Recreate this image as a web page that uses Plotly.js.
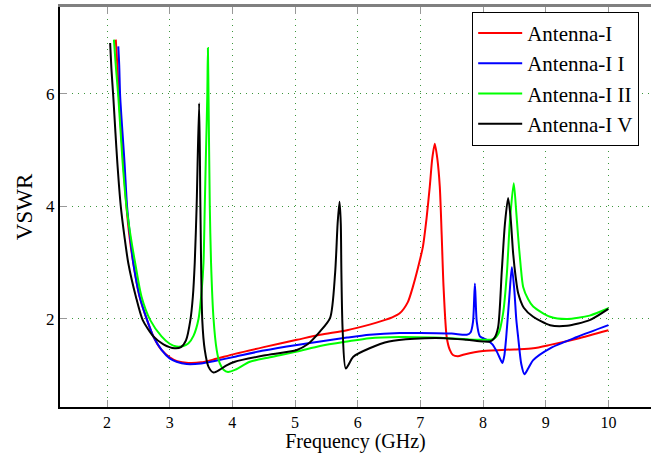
<!DOCTYPE html>
<html>
<head>
<meta charset="utf-8">
<script src="https://cdn.plot.ly/plotly-3.0.1.min.js"></script>
<style>html,body{margin:0;padding:0;background:#fff;}#chart{width:651px;height:453px;}</style>
</head>
<body>
<div id="chart"></div>
<script>
const seriesNames = ["Antenna-I", "Antenna-I I", "Antenna-I II", "Antenna-I V"];
const seriesColors = ["#ff0000", "#0000ff", "#00ff00", "#000000"];

const freqA1 = [2.14, 2.165, 2.19, 2.26, 2.31, 2.36, 2.42, 2.52, 2.64, 2.74, 2.87, 3.0, 3.12, 3.3, 3.5, 3.7, 4.04, 4.5, 5.03, 5.4, 5.83, 6.19, 6.4, 6.55, 6.67, 6.8, 6.88, 6.96, 7.04, 7.1, 7.15, 7.19, 7.23, 7.27, 7.31, 7.34, 7.37, 7.42, 7.47, 7.52, 7.6, 7.7, 8.0, 8.5, 8.8, 9.07, 9.5, 10.0];
const vswrA1 = [6.96, 6.5, 5.95, 4.77, 4.0, 3.45, 2.99, 2.40, 1.98, 1.69, 1.45, 1.32, 1.25, 1.22, 1.23, 1.28, 1.38, 1.5, 1.63, 1.72, 1.8, 1.9, 1.97, 2.03, 2.1, 2.3, 2.57, 2.9, 3.28, 3.8, 4.35, 4.85, 5.11, 4.85, 4.35, 3.5, 2.57, 1.68, 1.45, 1.36, 1.34, 1.37, 1.43, 1.46, 1.48, 1.54, 1.65, 1.8];

const freqA2 = [2.18, 2.195, 2.21, 2.28, 2.32, 2.37, 2.42, 2.52, 2.64, 2.74, 2.87, 3.0, 3.11, 3.27, 3.5, 3.7, 4.04, 4.5, 5.03, 5.4, 5.83, 6.19, 6.67, 7.0, 7.5, 7.74, 7.8, 7.84, 7.87, 7.9, 7.95, 8.06, 8.15, 8.22, 8.27, 8.31, 8.34, 8.37, 8.42, 8.46, 8.5, 8.53, 8.56, 8.61, 8.66, 8.72, 8.8, 9.07, 9.5, 10.0];
const vswrA2 = [6.84, 6.5, 5.95, 4.77, 4.0, 3.45, 2.99, 2.40, 1.98, 1.69, 1.45, 1.3, 1.24, 1.2, 1.21, 1.25, 1.33, 1.44, 1.54, 1.6, 1.67, 1.72, 1.75, 1.75, 1.74, 1.72, 1.76, 1.95, 2.63, 1.95, 1.69, 1.63, 1.55, 1.42, 1.3, 1.22, 1.35, 1.68, 2.4, 2.92, 2.5, 2.0, 1.68, 1.2, 1.02, 1.12, 1.27, 1.48, 1.68, 1.89];

const freqA3 = [2.11, 2.14, 2.18, 2.25, 2.31, 2.38, 2.45, 2.55, 2.69, 2.87, 3.0, 3.11, 3.22, 3.3, 3.38, 3.46, 3.51, 3.54, 3.56, 3.58, 3.6, 3.61, 3.62, 3.64, 3.66, 3.70, 3.75, 3.80, 3.86, 3.93, 4.05, 4.28, 4.6, 5.03, 5.4, 5.83, 6.19, 6.67, 7.2, 7.74, 8.0, 8.16, 8.25, 8.32, 8.38, 8.43, 8.49, 8.53, 8.56, 8.6, 8.64, 8.72, 8.8, 9.07, 9.34, 9.7, 10.0];
const vswrA3 = [6.96, 6.5, 5.95, 4.77, 4.0, 3.45, 2.99, 2.40, 1.98, 1.69, 1.56, 1.51, 1.52, 1.57, 1.7, 2.0, 2.5, 3.0, 4.0, 5.0, 5.95, 6.81, 5.95, 4.0, 3.0, 2.0, 1.45, 1.21, 1.1, 1.06, 1.1, 1.24, 1.32, 1.42, 1.52, 1.6, 1.66, 1.68, 1.67, 1.64, 1.63, 1.64, 1.75, 2.1, 2.8, 3.76, 4.41, 3.9, 3.46, 2.95, 2.57, 2.35, 2.22, 2.04, 2.0, 2.06, 2.19];

const freqA4 = [2.05, 2.07, 2.10, 2.135, 2.165, 2.22, 2.28, 2.34, 2.46, 2.57, 2.74, 2.9, 3.08, 3.18, 3.26, 3.33, 3.37, 3.40, 3.43, 3.47, 3.49, 3.52, 3.56, 3.62, 3.70, 3.8, 3.9, 4.04, 4.5, 5.03, 5.2, 5.4, 5.56, 5.64, 5.68, 5.71, 5.73, 5.74, 5.76, 5.81, 5.93, 6.19, 6.5, 6.9, 7.4, 7.74, 8.0, 8.11, 8.18, 8.24, 8.3, 8.35, 8.4, 8.44, 8.48, 8.52, 8.56, 8.65, 8.8, 9.07, 9.34, 9.7, 10.0];
const vswrA4 = [6.9, 6.45, 5.95, 5.3, 4.77, 4.0, 3.45, 2.99, 2.40, 1.98, 1.69, 1.55, 1.48, 1.5, 1.62, 1.98, 2.4, 3.0, 4.0, 5.83, 4.0, 1.98, 1.45, 1.15, 1.05, 1.1, 1.17, 1.24, 1.35, 1.45, 1.55, 1.78, 2.02, 2.82, 3.7, 4.08, 3.7, 2.82, 1.8, 1.12, 1.33, 1.48, 1.6, 1.65, 1.66, 1.63, 1.6, 1.6, 1.66, 1.85, 2.87, 3.7, 4.15, 3.8, 3.17, 2.75, 2.46, 2.2, 2.04, 1.89, 1.88, 1.98, 2.18];

const xTicks = [2, 3, 4, 5, 6, 7, 8, 9, 10];
const yTicks = [2, 4, 6];

const freqs = [freqA1, freqA2, freqA3, freqA4];
const vswrs = [vswrA1, vswrA2, vswrA3, vswrA4];

const traces = seriesNames.map((name, i) => ({
  type: "scatter", mode: "lines", name: name,
  x: freqs[i], y: vswrs[i],
  line: {color: seriesColors[i], width: 2, shape: "spline", smoothing: 0.7}
}));
traces.push({type: "scatter", mode: "lines", x: [], y: [], xaxis: "x2", showlegend: false, hoverinfo: "skip"});

const serif = "Liberation Serif";
const gridCol = "rgba(40,140,40,0.9)";
const layout = {
  width: 651, height: 453,
  margin: {l: 60, r: 0, t: 7, b: 46},
  paper_bgcolor: "#ffffff", plot_bgcolor: "#ffffff",
  font: {family: serif, size: 16, color: "#000"},
  showlegend: true,
  legend: {
    x: 0.98, y: 0.988, xanchor: "right", yanchor: "top",
    bgcolor: "#ffffff", bordercolor: "#000000", borderwidth: 1,
    font: {family: serif, size: 21, color: "#000"},
    itemwidth: 44, tracegroupgap: 0
  },
  xaxis: {
    range: [1.25, 10.68], tickvals: xTicks, ticktext: xTicks.map(String),
    showline: true, linecolor: "#000", linewidth: 2,
    ticks: "inside", ticklen: 7, tickcolor: "#999", tickwidth: 1,
    showgrid: true, gridcolor: gridCol, griddash: "1px,5px", gridwidth: 1,
    zeroline: false, tickfont: {family: serif, size: 16},
    title: {text: "Frequency (GHz)", font: {family: serif, size: 20}, standoff: 5}
  },
  xaxis2: {
    overlaying: "x", matches: "x", side: "top", range: [1.25, 10.68],
    tickvals: xTicks, showticklabels: false, showgrid: false, zeroline: false,
    showline: true, linecolor: "#808080", linewidth: 3,
    ticks: "inside", ticklen: 7, tickcolor: "#999", tickwidth: 1
  },
  yaxis: {
    range: [0.437, 7.54], tickvals: yTicks, ticktext: yTicks.map(String),
    showline: true, linecolor: "#000", linewidth: 2,
    ticks: "inside", ticklen: 7, tickcolor: "#999", tickwidth: 1,
    showgrid: true, gridcolor: gridCol, griddash: "1px,5px", gridwidth: 1,
    zeroline: false, tickfont: {family: serif, size: 17},
    title: {text: "VSWR", font: {family: serif, size: 23}, standoff: 7}
  }
};
Plotly.newPlot("chart", traces, layout, {displayModeBar: false, staticPlot: true});
</script>
</body>
</html>
